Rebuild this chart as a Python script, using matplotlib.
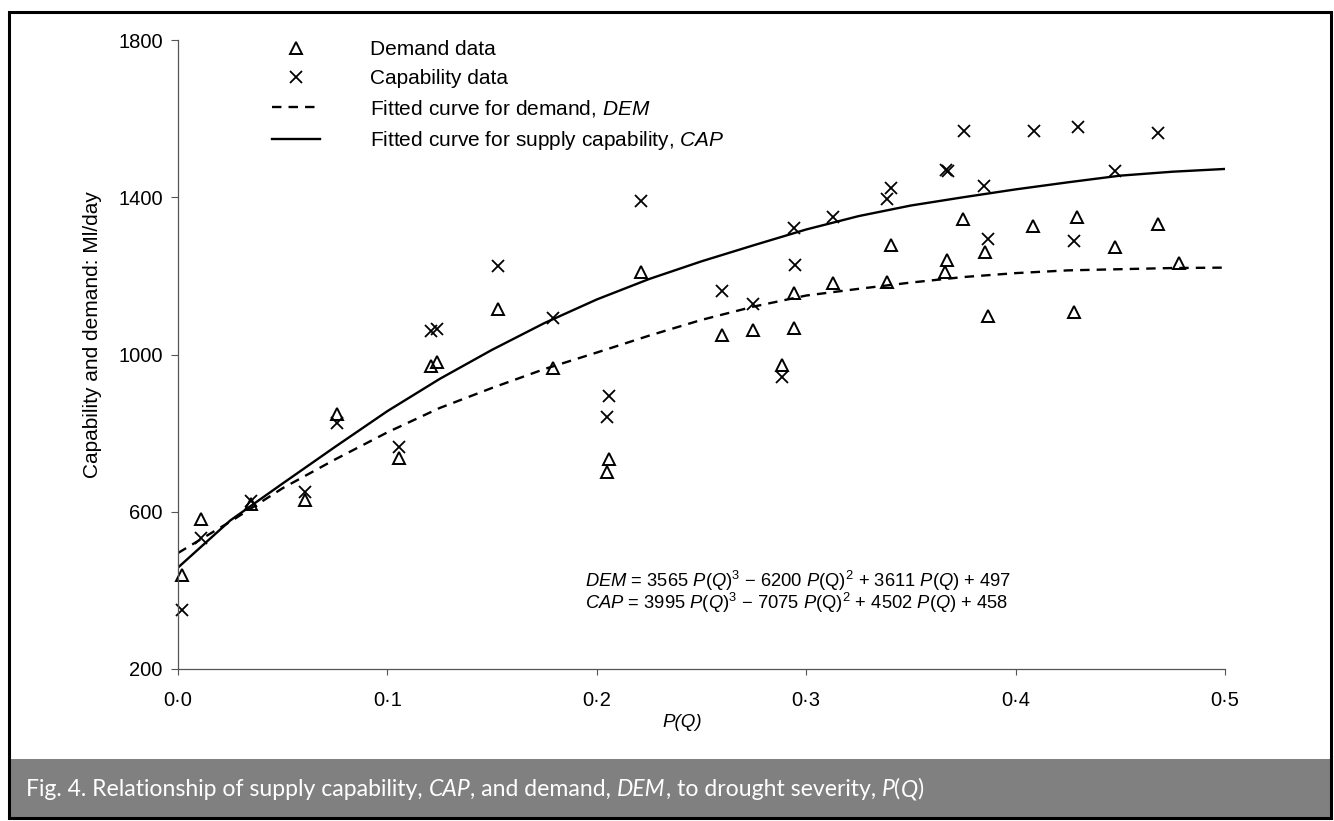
import matplotlib
matplotlib.use('Agg')
import matplotlib.pyplot as plt
from matplotlib.patches import Rectangle
from matplotlib.text import Annotation

plt.rcParams['font.family'] = ['Liberation Sans', 'DejaVu Sans']
plt.rcParams['mathtext.fontset'] = 'custom'
plt.rcParams['mathtext.rm'] = 'Liberation Sans'
plt.rcParams['mathtext.it'] = 'Liberation Sans:italic'

# demand data (triangles)
dem_x = [0.002, 0.011, 0.035, 0.0606, 0.0757, 0.1054, 0.121, 0.1235, 0.1527, 0.179,
         0.2048, 0.2057, 0.221, 0.2598, 0.2748, 0.2886, 0.2942, 0.2942, 0.313, 0.3386,
         0.3407, 0.3662, 0.3672, 0.3749, 0.3853, 0.3866, 0.4085, 0.4277, 0.4294, 0.4475,
         0.468, 0.4782]
dem_y = [438, 582, 620, 630, 849, 737, 972, 980, 1117, 966,
         700, 734, 1210, 1050, 1062, 974, 1067, 1156, 1181, 1184,
         1279, 1209, 1241, 1345, 1262, 1099, 1328, 1107, 1351, 1273,
         1332, 1234]

# capability data (crosses)
cap_x = [0.002, 0.011, 0.035, 0.0606, 0.0757, 0.1054, 0.121, 0.1235, 0.1527, 0.179,
         0.2048, 0.2057, 0.221, 0.2598, 0.2748, 0.2886, 0.2942, 0.2948, 0.313, 0.3386,
         0.3407, 0.3668, 0.3677, 0.3755, 0.385, 0.3866, 0.409, 0.4277, 0.430, 0.4477,
         0.468]
cap_y = [351, 533, 627, 650, 827, 764, 1059, 1065, 1224, 1092,
         840, 894, 1390, 1161, 1128, 944, 1323, 1228, 1349, 1395,
         1423, 1470, 1466, 1568, 1429, 1294, 1568, 1288, 1579, 1466,
         1563]

# fitted curves
p_fit = [0, 0.025, 0.05, 0.075, 0.1, 0.125, 0.15, 0.175, 0.2, 0.225, 0.25,
         0.275, 0.3, 0.325, 0.35, 0.375, 0.4, 0.425, 0.45, 0.475, 0.5]
dem_fit = [495, 575, 660, 733, 802, 864, 915, 963, 1005, 1048, 1088,
           1122, 1150, 1167, 1183, 1197, 1207, 1214, 1217, 1220, 1221]
cap_fit = [458, 578, 672, 765, 856, 938, 1012, 1080, 1140, 1192, 1237,
           1278, 1318, 1352, 1379, 1400, 1420, 1438, 1455, 1465, 1472]

x_ticks = [0, 0.1, 0.2, 0.3, 0.4, 0.5]
x_labels = ['0\u00b70', '0\u00b71', '0\u00b72', '0\u00b73', '0\u00b74', '0\u00b75']
y_ticks = [200, 600, 1000, 1400, 1800]

MINUS = '\u2212'
eq1 = (r'$\mathit{DEM}$ = 3565 $\mathit{P}$($\mathit{Q}$)$^{3}$ ' + MINUS + r' 6200 $\mathit{P}$(Q)$^{2}$'
       r' + 3611 $\mathit{P}$($\mathit{Q}$) + 497')
eq2 = (r'$\mathit{CAP}$ = 3995 $\mathit{P}$($\mathit{Q}$)$^{3}$ ' + MINUS + r' 7075 $\mathit{P}$(Q)$^{2}$'
       r' + 4502 $\mathit{P}$($\mathit{Q}$) + 458')

W, H = 1334, 821
fig = plt.figure(figsize=(W / 100, H / 100), dpi=100)
ax = fig.add_axes([178 / W, 1 - 669 / H, (1225 - 178) / W, (669 - 40) / H])

ax.plot(dem_x, dem_y, ls='none', marker='^', ms=9, mfc='none', mec='k', mew=1.4,
        label='Demand data', clip_on=False)
ax.plot(cap_x, cap_y, ls='none', marker='x', ms=8, mec='k', mew=1.3,
        label='Capability data', clip_on=False)
ax.plot(p_fit, dem_fit, color='k', ls='--', lw=1.7, dashes=(4, 3),
        label=r'Fitted curve for demand, $\mathit{DEM}$')
ax.plot(p_fit, cap_fit, color='k', ls='-', lw=1.7,
        label=r'Fitted curve for supply capability, $\mathit{CAP}$')

ax.set_xlim(0, 0.5)
ax.set_ylim(200, 1800)
ax.set_xticks(x_ticks)
ax.set_xticklabels(x_labels)
ax.set_yticks(y_ticks)
for s in ['top', 'right']:
    ax.spines[s].set_visible(False)
for s in ['left', 'bottom']:
    ax.spines[s].set_color('#555555')
    ax.spines[s].set_linewidth(0.9)
ax.tick_params(axis='y', direction='out', length=5, width=0.8, color='#555555', pad=6, labelsize=14.5)
ax.tick_params(axis='x', direction='out', length=4, width=0.8, color='#555555', pad=12, labelsize=14.5)

fig.text(682 / W, 1 - 722 / H, 'P(Q)', ha='center', va='center', style='italic', fontsize=13.5)
fig.text(93 / W, 1 - 335 / H, 'Capability and demand: Ml/day', rotation=90,
         ha='center', va='center', fontsize=15)

fig.text(585 / W, 1 - 581 / H, eq1, ha='left', va='center', fontsize=13.2)
fig.text(585 / W, 1 - 603 / H, eq2, ha='left', va='center', fontsize=13.2)

ax.legend(loc='upper left', bbox_to_anchor=(272 / W, 1 - 40 / H), bbox_transform=fig.transFigure,
          frameon=False, fontsize=15, handlelength=2.3, handletextpad=2.4,
          labelspacing=0.48, borderpad=0, borderaxespad=0, numpoints=1)

# caption band and outer frame
fig.patches.append(Rectangle((9 / W, 1 - 818 / H), (1331 - 9) / W, (818 - 759) / H,
                             transform=fig.transFigure, facecolor='#808080', edgecolor='none'))
fig.patches.append(Rectangle((9 / W, 1 - 818 / H), (1331 - 9) / W, (818 - 12) / H,
                             transform=fig.transFigure, fill=False, edgecolor='k', lw=2.2))

# caption, pieces chained one after another
pieces = [('Fig. 4. Relationship of supply capability, ', 'normal'), ('CAP', 'italic'),
          (', and demand, ', 'normal'), ('DEM', 'italic'),
          (', to drought severity, ', 'normal'), ('P', 'italic'), ('(', 'normal'),
          ('Q', 'italic'), (')', 'normal')]
prev = fig.text(26 / W, 1 - 800 / H, pieces[0][0], color='white', family='Lato',
                style=pieces[0][1], fontsize=16.6, ha='left', va='bottom', zorder=5)
for txt, st in pieces[1:]:
    prev = fig.add_artist(Annotation(txt, xy=(1, 0), xycoords=prev, color='white',
                                     family='Lato', style=st, fontsize=16.6, ha='left',
                                     va='bottom', zorder=5))

fig.savefig('out.png', dpi=100)
